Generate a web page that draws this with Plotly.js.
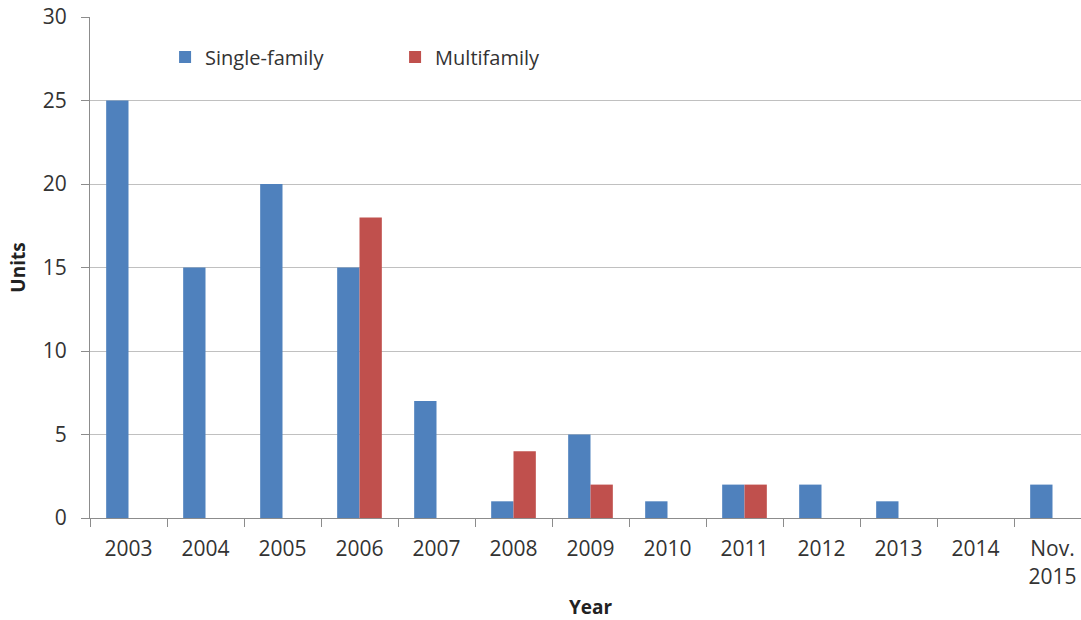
<!DOCTYPE html>
<html>
<head>
<meta charset="utf-8">
<script src="https://cdn.plot.ly/plotly-3.0.1.min.js"></script>
<style>
html,body{margin:0;padding:0;overflow:hidden;background:#fff;}
#chart{width:1095px;height:620px;}
</style>
</head>
<body>
<div id="chart"></div>
<script>
const categories = ["2003","2004","2005","2006","2007","2008","2009","2010","2011","2012","2013","2014","Nov.<br>2015"];
const singleFamily = [25,15,20,15,7,1,5,1,2,2,1,0,2];
const multifamily = [0,0,0,18,0,4,2,0,2,0,0,0,0];

const fontFam = "Open Sans, Noto Sans, sans-serif";
const textColor = "#333333";

const traces = [
  {type:"bar", name:"Single-family", x:categories, y:singleFamily, marker:{color:"#4F81BD"}},
  {type:"bar", name:"Multifamily", x:categories, y:multifamily, marker:{color:"#C0504D"}}
];

const layout = {
  width:1095, height:620,
  margin:{l:90, r:4, t:17, b:102},
  paper_bgcolor:"#ffffff", plot_bgcolor:"#ffffff",
  barmode:"group", bargap:0.42, bargroupgap:0,
  font:{family:fontFam, size:20, color:textColor},
  showlegend:true,
  legend:{orientation:"h", x:0.075, y:0.92, xanchor:"left", yanchor:"middle",
          entrywidth:185, entrywidthmode:"pixels", font:{size:20, color:textColor},
          bgcolor:"rgba(0,0,0,0)"},
  xaxis:{type:"category", range:[-0.5,12.5], showgrid:false, zeroline:false,
         showline:true, linecolor:"#8c8c8c", linewidth:1,
         ticks:"outside", tickson:"boundaries", ticklen:8, tickcolor:"#8c8c8c",
         ticklabelstandoff:12,
         tickfont:{family:fontFam, size:21, color:textColor},
         title:{text:"Year", font:{family:fontFam, size:19, color:"#222", weight:"bold"}, standoff:14}},
  yaxis:{range:[0,30], dtick:5, showgrid:true, gridcolor:"#c0c0c0", gridwidth:1,
         zeroline:false, showline:true, linecolor:"#8c8c8c", linewidth:1,
         ticks:"outside", ticklen:8, tickcolor:"#8c8c8c", ticklabelstandoff:10,
         tickfont:{family:fontFam, size:21, color:textColor},
         title:{text:"Units", font:{family:fontFam, size:19, color:"#222", weight:"bold"}, standoff:12}}
};

Plotly.newPlot("chart", traces, layout, {displayModeBar:false, staticPlot:true});
</script>
</body>
</html>
